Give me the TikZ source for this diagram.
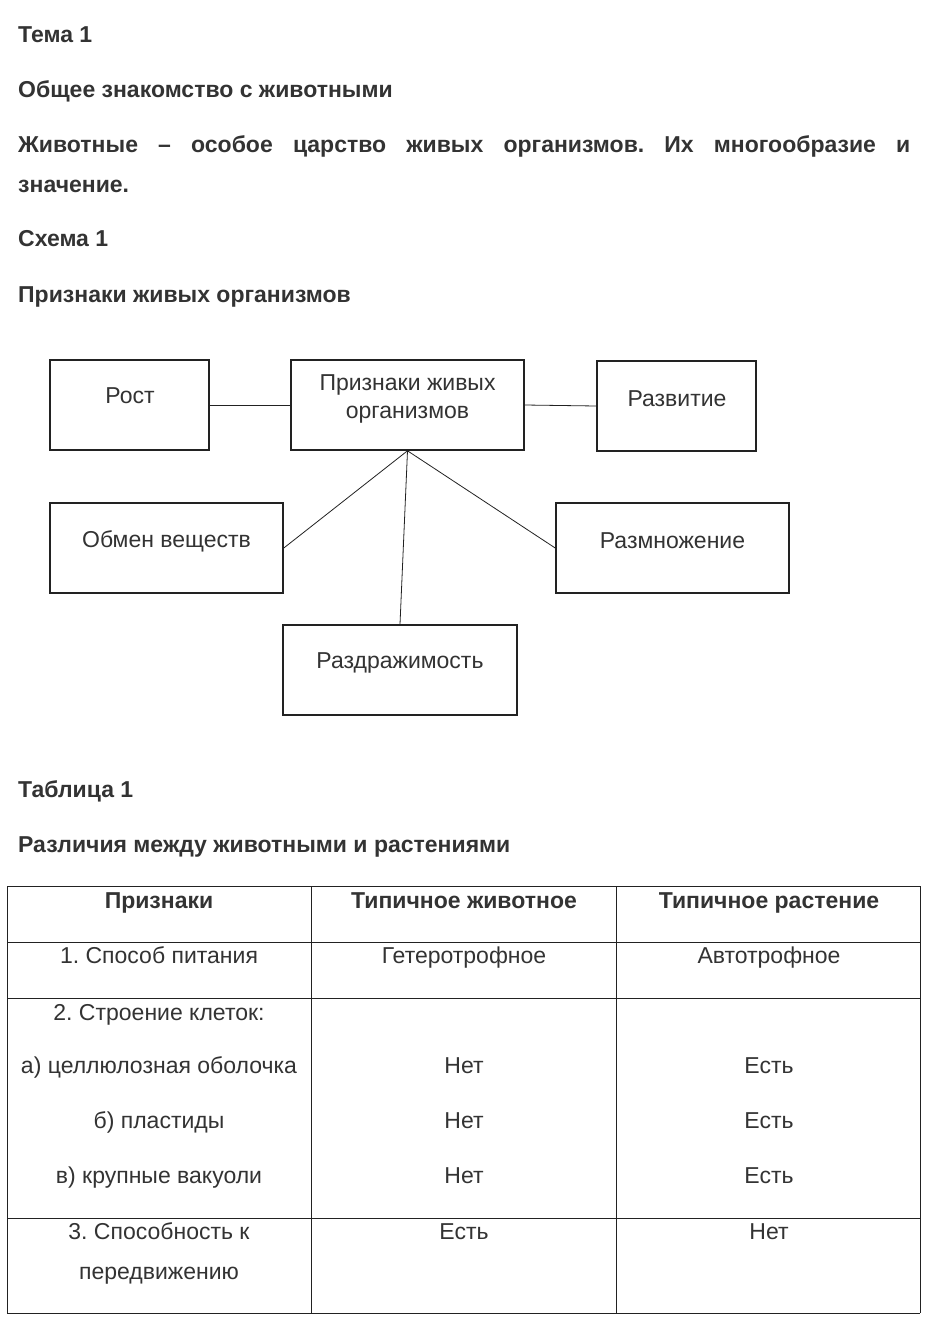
\documentclass[tikz,border=0pt]{standalone}
\usepackage{fontspec}
\setmainfont{Liberation Sans}
\frenchspacing
\definecolor{ink}{HTML}{333333}
\definecolor{rule}{HTML}{222222}
\begin{document}
\begin{tikzpicture}[x=1pt,y=-1pt,
    heading/.style={anchor=base west,inner sep=0pt,font=\fontsize{23}{27}\selectfont\bfseries,text=ink},
    box/.style={draw=rule,line width=1.6pt,minimum width=#1,minimum height=90pt,inner sep=0pt},
    link/.style={draw=rule,line width=0.8pt},
    cell/.style={anchor=base,inner sep=0pt,font=\fontsize{23}{27}\selectfont,text=ink},
    headcell/.style={cell,font=\fontsize{23}{27}\selectfont\bfseries}]
    \useasboundingbox[fill=white] (0,0) rectangle (932,1319);

    % headings
    \node[heading] (tema) at (18,43) {Тема 1};
    \node[heading] (intro) at (18,98) {Общее знакомство с животными};
    \node[heading] (line1) at (18,153) {\makebox[892pt][s]{Животные – особое царство живых организмов. Их многообразие и}};
    \node[heading] (line2) at (18,192) {значение.};
    \node[heading] (shema) at (18,246) {Схема 1};
    \node[heading] (shematitle) at (18,302) {Признаки живых организмов};

    % scheme 1
    \node[box=159pt] (rost) at (129.5,405) {};
    \node[box=233pt] (main) at (407.5,405) {};
    \node[box=159pt] (razv) at (676.5,406) {};
    \node[box=233pt] (obmen) at (166.5,548) {};
    \node[box=233pt] (razm) at (672.5,548) {};
    \node[box=234pt] (razdr) at (400,670) {};

    \node[cell] at (130,403) {Рост};
    \node[cell] at (407.5,390) {Признаки живых};
    \node[cell] at (407.5,418) {организмов};
    \node[cell] at (677,406) {Развитие};
    \node[cell] at (166.5,547) {Обмен веществ};
    \node[cell] at (672.5,548) {Размножение};
    \node[cell] at (400,668) {Раздражимость};

    \draw[link] (rost.east) -- (main.west);
    \draw[link] (main.east) -- (razv.west);
    \draw[link] (main.south) -- (obmen.east);
    \draw[link] (main.south) -- (razm.west);
    \draw[link] (main.south) -- (razdr.north);

    % table 1
    \node[heading] (tabl) at (18,797) {Таблица 1};
    \node[heading] (tabltitle) at (18,852) {Различия между животными и растениями};

    \foreach \y in {886,942,998,1218,1313}
        \draw[rule,line width=0.9pt] (7,\y) -- (920,\y);
    \foreach \x in {7,311,616,920}
        \draw[rule,line width=0.9pt] (\x,886) -- (\x,1313);

    \node[headcell] at (159,908) {Признаки};
    \node[headcell] at (464,908) {Типичное животное};
    \node[headcell] at (769,908) {Типичное растение};

    \node[cell] at (159,963) {1. Способ питания};
    \node[cell] at (464,963) {Гетеротрофное};
    \node[cell] at (769,963) {Автотрофное};

    \node[cell] at (159,1020) {2. Строение клеток:};
    \node[cell] at (159,1073) {а) целлюлозная оболочка};
    \node[cell] at (159,1128) {б) пластиды};
    \node[cell] at (159,1183) {в) крупные вакуоли};
    \foreach \y in {1073,1128,1183} {
        \node[cell] at (464,\y) {Нет};
        \node[cell] at (769,\y) {Есть};
    }

    \node[cell] at (159,1239) {3. Способность к};
    \node[cell] at (159,1279) {передвижению};
    \node[cell] at (464,1239) {Есть};
    \node[cell] at (769,1239) {Нет};
\end{tikzpicture}
\end{document}
